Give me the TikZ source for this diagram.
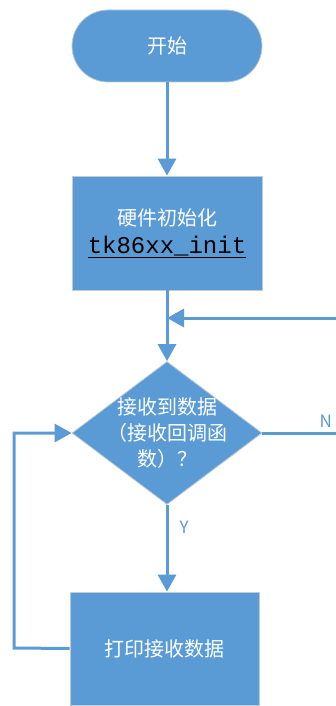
\documentclass[tikz,border=0pt]{standalone}
\usepackage{fontspec}
\newfontfamily\cjk{Noto Sans CJK SC}
\newfontfamily\mono{Liberation Mono}
\usetikzlibrary{shapes.geometric,arrows.meta}
\definecolor{flowblue}{RGB}{91,155,213}
\definecolor{edgegray}{RGB}{190,202,214}
\tikzset{
  box/.style={draw=edgegray, line width=0.8pt, fill=flowblue, text=white,
    minimum width=190pt, minimum height=114pt, inner sep=0pt, align=center,
    font=\cjk\fontsize{20}{26}\selectfont},
  startbox/.style={box, rounded corners=36pt, minimum height=72pt},
  decision/.style={diamond, draw=edgegray, line width=0.8pt, fill=flowblue,
    minimum width=190pt, minimum height=143pt, inner sep=0pt},
  flow/.style={draw=flowblue, line width=3pt},
  tip/.style={-{Triangle[length=17pt,width=18pt]}},
  lbl/.style={text=flowblue, font=\cjk\fontsize{17}{20}\selectfont, inner sep=0pt}
}
\begin{document}
\begin{tikzpicture}[x=1pt, y=-1pt]
  \useasboundingbox (0,0) rectangle (336,706);
  % nodes
  \node[startbox] (start) at (167,46) {开始};
  \node[box] (init) at (167,233) {硬件初始化\\[2pt]
    {\color{black}\mono\fontsize{24}{28}\selectfont\underline{tk86xx\_init}}};
  \node[decision] (recv) at (167,433) {};
  \node[text=white, align=center, font=\cjk\fontsize{20}{26}\selectfont]
    (recvtext) at (167,433) {接收到数据\\（接收回调函\\数）？};
  \node[box, minimum width=189pt, minimum height=113pt] (print) at (164.5,648.5) {打印接收数据};
  % free ends
  \coordinate (nin) at (336,318);
  \coordinate (join) at (167,318);
  \coordinate (nout) at (336,433);
  \coordinate (loop) at (14,648);
  % connectors
  \draw[flow, tip] (start) -- (init);
  \draw[flow, tip] (init) -- (recv);
  \draw[flow, tip] (nin) -- (join);
  \draw[flow] (recv.east) -- (nout) node[lbl, pos=0.86, above=4pt] {N};
  \draw[flow, tip] (recv.south) -- (recv.south |- print.north) node[lbl, pos=0.26, right=11pt] {Y};
  \draw[flow, tip] (print.west) -- (loop) |- (recv.west);
\end{tikzpicture}
\end{document}
